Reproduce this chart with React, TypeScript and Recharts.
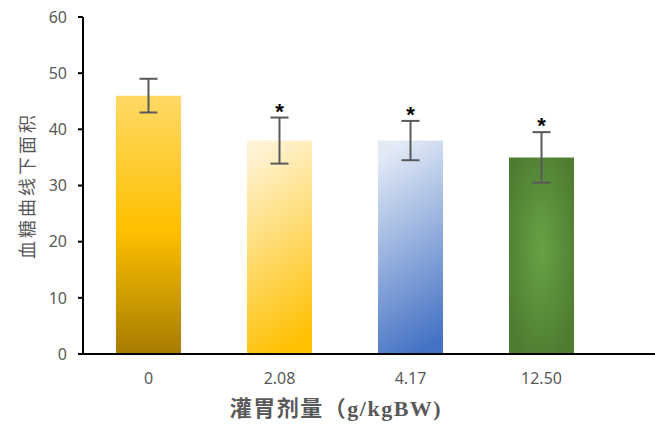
import { ComposedChart, Bar, Line, XAxis, YAxis, ErrorBar, Cell } from 'recharts';

const categories = ['0', '2.08', '4.17', '12.50'];
const means = [46, 38, 38, 35];
const errors = [3, 4.1, 3.5, 4.5];
const significant = [false, true, true, true];
const yTicks = [0, 10, 20, 30, 40, 50, 60];

const fills = ['url(#g0)', 'url(#g1)', 'url(#g2)', 'url(#g3)'];

const data = categories.map((name, i) => ({
  name,
  mean: means[i],
  err: errors[i],
  star: significant[i] ? means[i] + errors[i] : null,
}));

const grey = '#595959';

// asterisk drawn just above the error bar cap
const StarDot = (props: any) => {
  const { cx, cy, payload } = props;
  if (payload.star == null || cy == null) return null;
  return (
    <text
      key={payload.name}
      x={cx}
      y={cy + 1}
      textAnchor="middle"
      fontFamily="Liberation Sans, Arial"
      fontWeight="bold"
      fontSize={22}
      fill="#000"
    >
      *
    </text>
  );
};

const YTitle = (props: any) => {
  const { viewBox } = props;
  const x = viewBox.x + 26;
  const y = viewBox.y + viewBox.height / 2;
  return (
    <text
      x={x}
      y={y}
      transform={`rotate(-90, ${x}, ${y})`}
      textAnchor="middle"
      dominantBaseline="central"
      fontFamily="Noto Sans CJK SC"
      fontSize={18}
      letterSpacing={3}
      fill={grey}
    >
      血糖曲线下面积
    </text>
  );
};

const XTitle = () => (
  <text
    x={336}
    y={416}
    textAnchor="middle"
    fontFamily="Liberation Serif, Noto Sans CJK SC"
    fontWeight="bold"
    fontSize={22}
    letterSpacing={1.5}
    fill={grey}
  >
    灌胃剂量（g/kgBW)
  </text>
);

export default function App() {
  return (
    <div style={{ position: 'absolute', left: 0, top: 0, width: 655, height: 434, background: '#fff' }}>
      <ComposedChart width={655} height={434} data={data} margin={{ top: 17, right: 0, bottom: 0, left: 0 }}>
        <defs>
          <linearGradient id="g0" x1="0" y1="0" x2="0" y2="1">
            <stop offset="0%" stopColor="#FFD966" />
            <stop offset="52%" stopColor="#FFC000" />
            <stop offset="100%" stopColor="#A67C00" />
          </linearGradient>
          <linearGradient id="g1" x1="0.4" y1="0" x2="0.6" y2="1">
            <stop offset="0%" stopColor="#FFF3D4" />
            <stop offset="100%" stopColor="#FFC000" />
          </linearGradient>
          <linearGradient id="g2" x1="0.4" y1="0" x2="0.6" y2="1">
            <stop offset="0%" stopColor="#E3EAF6" />
            <stop offset="100%" stopColor="#4472C4" />
          </linearGradient>
          <radialGradient id="g3" cx="0.5" cy="0.47" r="0.6">
            <stop offset="0%" stopColor="#66A244" />
            <stop offset="100%" stopColor="#4E7C31" />
          </radialGradient>
        </defs>
        <XAxis
          dataKey="name"
          height={80}
          padding={{ left: 0, right: 48 }}
          axisLine={{ stroke: '#000', strokeWidth: 2 }}
          tickLine={false}
          tickSize={6}
          tickMargin={13}
          tick={{ fill: grey, fontSize: 16, fontFamily: 'Noto Sans' }}
          label={<XTitle />}
        />
        <YAxis
          width={83}
          domain={[0, 60]}
          ticks={yTicks}
          interval={0}
          axisLine={{ stroke: '#000', strokeWidth: 2 }}
          tickLine={{ stroke: '#000', strokeWidth: 2 }}
          tickSize={5}
          tickMargin={11}
          tick={{ fill: grey, fontSize: 16, fontFamily: 'Noto Sans' }}
          label={{ content: YTitle }}
        />
        <Bar dataKey="mean" barSize={65} isAnimationActive={false}>
          {data.map((d, i) => (
            <Cell key={d.name} fill={fills[i]} />
          ))}
          <ErrorBar dataKey="err" width={9} strokeWidth={2} stroke={grey} />
        </Bar>
        <Line
          dataKey="star"
          stroke="none"
          dot={StarDot}
          activeDot={false}
          legendType="none"
          isAnimationActive={false}
        />
      </ComposedChart>
    </div>
  );
}
